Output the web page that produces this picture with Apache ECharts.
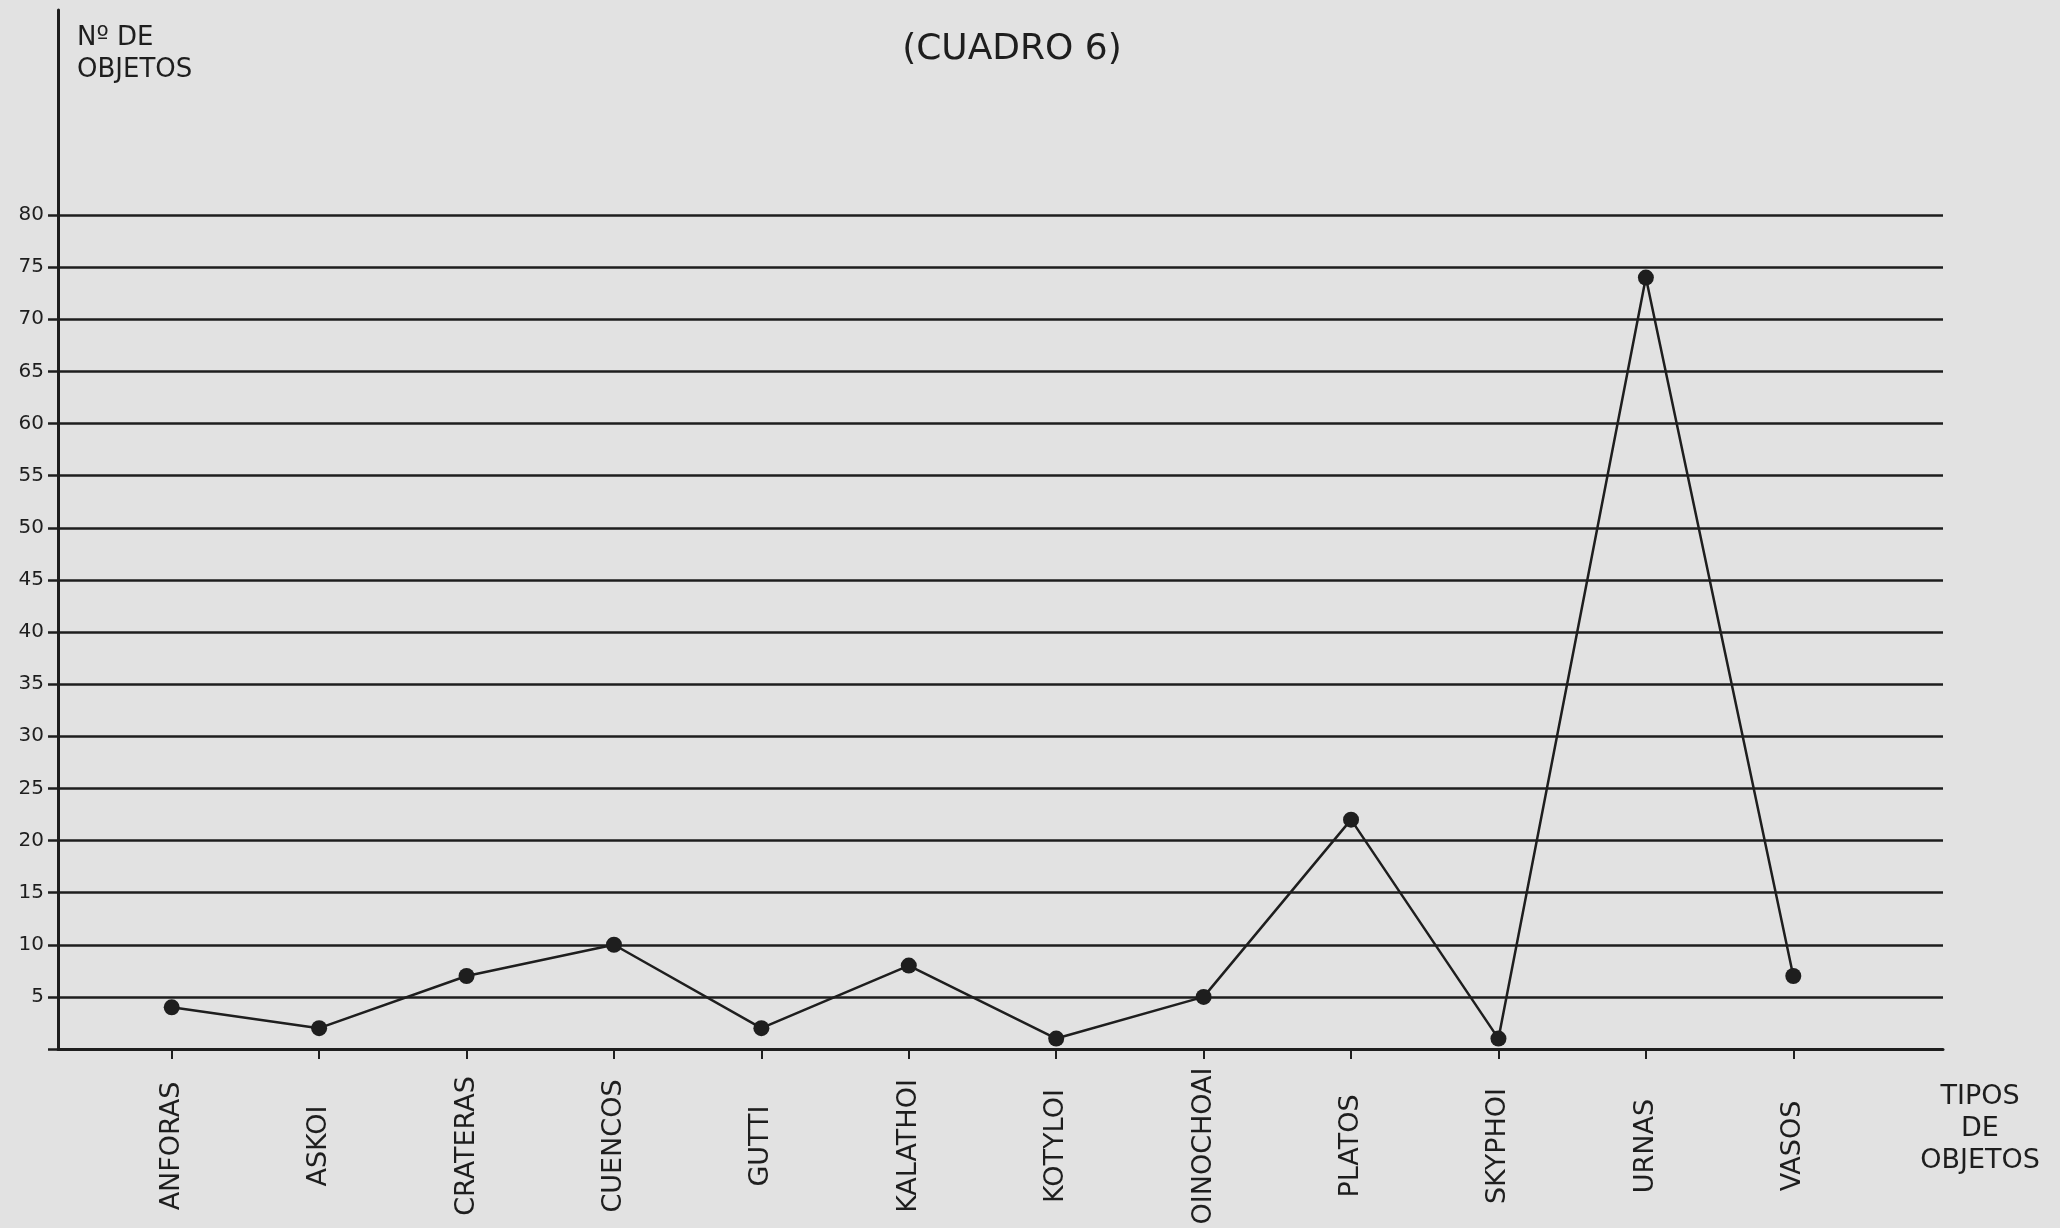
<!DOCTYPE html>
<html>
<head>
<meta charset="utf-8">
<script src="https://cdn.jsdelivr.net/npm/echarts@6/dist/echarts.min.js"></script>
<style>
html,body{margin:0;padding:0;background:#e2e2e2;}
#c{width:2060px;height:1228px;}
</style>
</head>
<body>
<div id="c"></div>
<script>
// ---- data ----
const categories = ['ANFORAS', 'ASKOI', 'CRATERAS', 'CUENCOS', 'GUTTI', 'KALATHOI',
                    'KOTYLOI', 'OINOCHOAI', 'PLATOS', 'SKYPHOI', 'URNAS', 'VASOS'];
const counts = [4, 2, 7, 10, 2, 8, 1, 5, 22, 1, 74, 7];
const yMin = 0;
const yMax = 80;
const yStep = 5;
const titleText = '(CUADRO 6)';
const yAxisTitle = 'Nº DE\nOBJETOS';
const xAxisTitle = 'TIPOS\nDE\nOBJETOS';

// ---- styling ----
const ink = '#1e1e1e';
const font = 'DejaVu Sans';

const chart = echarts.init(document.getElementById('c'), null, { renderer: 'canvas' });
chart.setOption({
  backgroundColor: '#e2e2e2',
  animation: false,
  textStyle: { fontFamily: font, color: ink },
  title: [
    { text: titleText, left: 1007, top: 27, textAlign: 'center',
      textStyle: { fontSize: 36, fontWeight: 'normal', color: ink, fontFamily: font } },
    { text: yAxisTitle, left: 72, top: 17,
      textStyle: { fontSize: 26, lineHeight: 32, fontWeight: 'normal', color: ink, fontFamily: font } },
    { text: xAxisTitle, left: 1975, top: 1076, textAlign: 'center',
      textStyle: { fontSize: 27, lineHeight: 32, fontWeight: 'normal', color: ink, fontFamily: font, align: 'center' } }
  ],
  grid: [
    { left: 58, right: 117, top: 215, bottom: 179 },   // frame + horizontal rules
    { left: 98, right: 193, top: 215, bottom: 179 },   // data area
    { left: 58, width: 1, top: 10, bottom: 179 }       // tall vertical axis
  ],
  xAxis: [
    { gridIndex: 0, type: 'value', min: 0, max: 1,
      axisLine: { show: true, lineStyle: { color: ink, width: 3 } },
      axisTick: { show: false }, axisLabel: { show: false }, splitLine: { show: false } },
    { gridIndex: 1, type: 'category', data: categories, boundaryGap: true,
      axisLine: { show: false },
      axisTick: { show: true, alignWithLabel: true, length: 10, lineStyle: { color: ink, width: 2 } },
      axisLabel: { interval: 0, rotate: 90, align: 'center', verticalAlign: 'middle', margin: 97,
                   fontSize: 27, color: ink, fontFamily: font },
      splitLine: { show: false } },
    { gridIndex: 2, type: 'value', show: false }
  ],
  yAxis: [
    { gridIndex: 0, type: 'value', min: yMin, max: yMax, interval: yStep,
      axisLine: { show: false },
      axisTick: { show: true, length: 10, lineStyle: { color: ink, width: 2.5 } },
      axisLabel: { fontSize: 20, color: ink, margin: 14, fontFamily: font,
                   formatter: v => (v === yMin ? '' : String(v)) },
      splitLine: { show: true, lineStyle: { color: ink, width: 2.5 } } },
    { gridIndex: 1, type: 'value', min: yMin, max: yMax, interval: yStep, show: false },
    { gridIndex: 2, type: 'value',
      axisLine: { show: true, lineStyle: { color: ink, width: 3 } },
      axisTick: { show: false }, axisLabel: { show: false }, splitLine: { show: false } }
  ],
  series: [{
    type: 'line', xAxisIndex: 1, yAxisIndex: 1, data: counts,
    symbol: 'circle', symbolSize: 16,
    lineStyle: { color: ink, width: 2.5 },
    itemStyle: { color: ink }
  }]
});
</script>
</body>
</html>
